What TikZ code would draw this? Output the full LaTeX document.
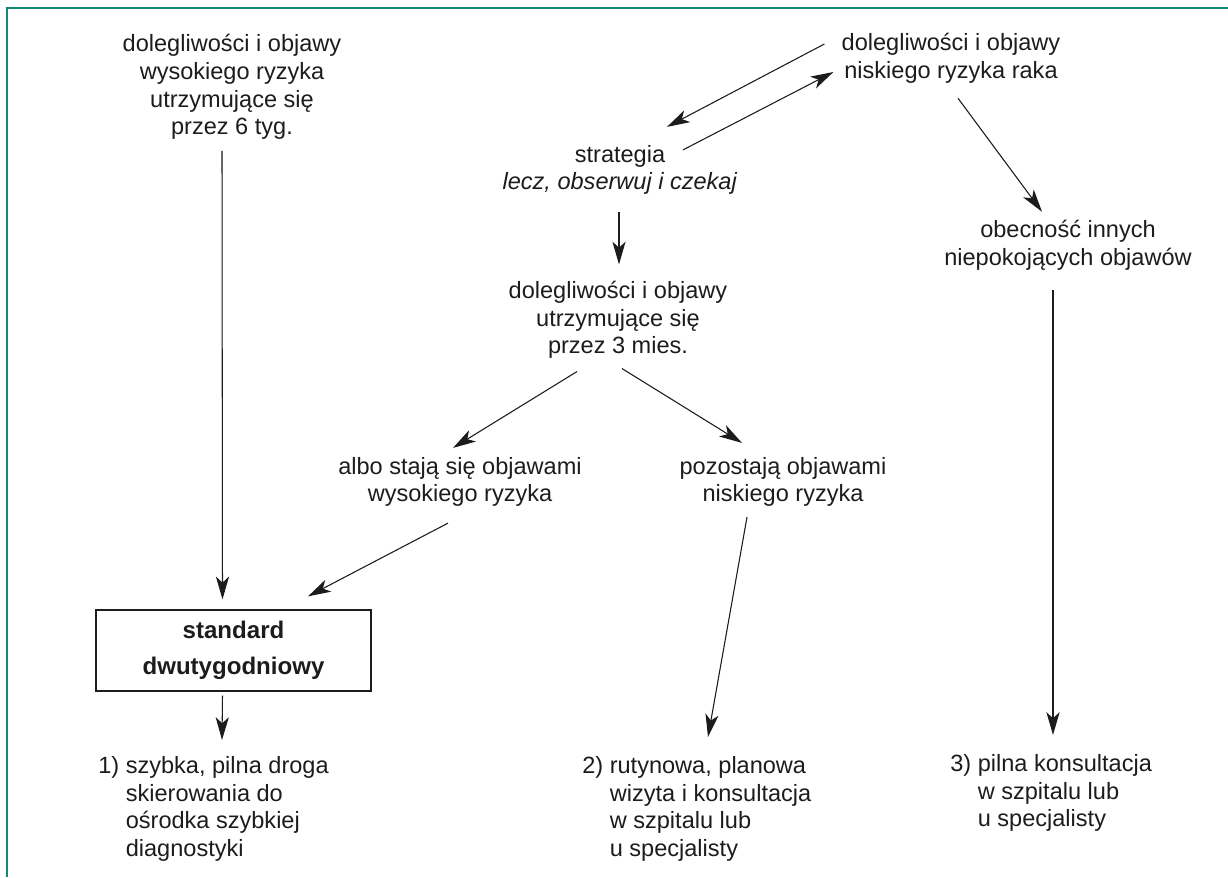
\documentclass[tikz,border=0pt]{standalone}
\usepackage{fontspec}
\setmainfont{Liberation Sans}
\usepackage{xcolor}
\usetikzlibrary{arrows.meta, positioning, calc}
\definecolor{inkgray}{RGB}{30,27,28}
\definecolor{frameteal}{RGB}{20,135,118}

\begin{document}
\begin{tikzpicture}[x=0.02cm, y=-0.02cm,
        plain_text/.style={align=center, inner sep=0pt, text=inkgray, font=\fontsize{13.4}{15.7}\selectfont},
        result_text/.style={align=left, inner sep=0pt, anchor=north west, text=inkgray, font=\fontsize{13.4}{15.7}\selectfont},
        main_box/.style={rectangle, draw=inkgray, line width=0.75pt, minimum width=5.5cm, minimum height=1.62cm, align=center, text=inkgray, font=\bfseries\fontsize{13.7}{20.5}\selectfont},
        flow_arrow/.style={-{Stealth[length=13pt, width=7.5pt, inset=3.5pt]}, draw=inkgray, fill=inkgray, line width=0.6pt}
    ]
\useasboundingbox (0,0) rectangle (1228,877);

% Frame
\draw[frameteal, line width=1.1pt] (7,877) -- (7,8) -- (1228,8);

% Symptoms
\node[plain_text] (high) at (232,87) {dolegliwości i objawy\\wysokiego ryzyka\\utrzymujące się\\przez 6 tyg.};
\node[plain_text] (low) at (951,58) {dolegliwości i objawy\\niskiego ryzyka raka};
\node[plain_text] (strat) at (620,170) {strategia\\\textit{lecz, obserwuj i czekaj}};
\node[plain_text] (mies) at (618,320) {dolegliwości i objawy\\utrzymujące się\\przez 3 mies.};
\node[plain_text] (albo) at (460,482) {albo stają się objawami\\wysokiego ryzyka};
\node[plain_text] (pozo) at (783,482) {pozostają objawami\\niskiego ryzyka};
\node[plain_text] (obec) at (1068,245) {obecność innych\\niepokojących objawów};

% Standard
\node[main_box] (std) at (233.5,650.5) {standard\\dwutygodniowy};

% Results
\node[result_text] (res1) at (98,756) {1)~szybka, pilna droga\\\hphantom{1)~}skierowania do\\\hphantom{1)~}ośrodka szybkiej\\\hphantom{1)~}diagnostyki};
\node[result_text] (res2) at (582,756) {2)~rutynowa, planowa\\\hphantom{2)~}wizyta i konsultacja\\\hphantom{2)~}w szpitalu lub\\\hphantom{2)~}u specjalisty};
\node[result_text] (res3) at (950,754) {3)~pilna konsultacja\\\hphantom{3)~}w szpitalu lub\\\hphantom{3)~}u specjalisty};

% Arrows
\draw[flow_arrow] ([shift={(-10,11)}]high.south) -- ([shift={(-11,-10)}]std.north);
\draw[flow_arrow] ([shift={(-11,4)}]std.south) -- ([shift={(124,-16)}]res1.north west);
\draw[flow_arrow] ([shift={(-17,-14)}]low.west) -- ([shift={(47,-18)}]strat.north);
\draw[flow_arrow] ([shift={(63,5)}]strat.north) -- ([shift={(-8,14)}]low.west);
\draw[flow_arrow] ([shift={(-1,17)}]strat.south) -- ([shift={(1,-16.5)}]mies.north);
\draw[flow_arrow] ([shift={(-41,12.5)}]mies.south) -- ([shift={(-7,-9)}]albo.north);
\draw[flow_arrow] ([shift={(4,9.5)}]mies.south) -- ([shift={(-41,-14)}]pozo.north);
\draw[flow_arrow] ([shift={(-12,16)}]albo.south) -- ([shift={(74.5,-13)}]std.north);
\draw[flow_arrow] ([shift={(-36,10)}]pozo.south) -- ([shift={(126,-19)}]res2.north west);
\draw[flow_arrow] ([shift={(7,15)}]low.south) -- ([shift={(-26,-8)}]obec.north);
\draw[flow_arrow] ([shift={(-15,20)}]obec.south) -- ([shift={(103,-19)}]res3.north west);

\end{tikzpicture}
\end{document}
